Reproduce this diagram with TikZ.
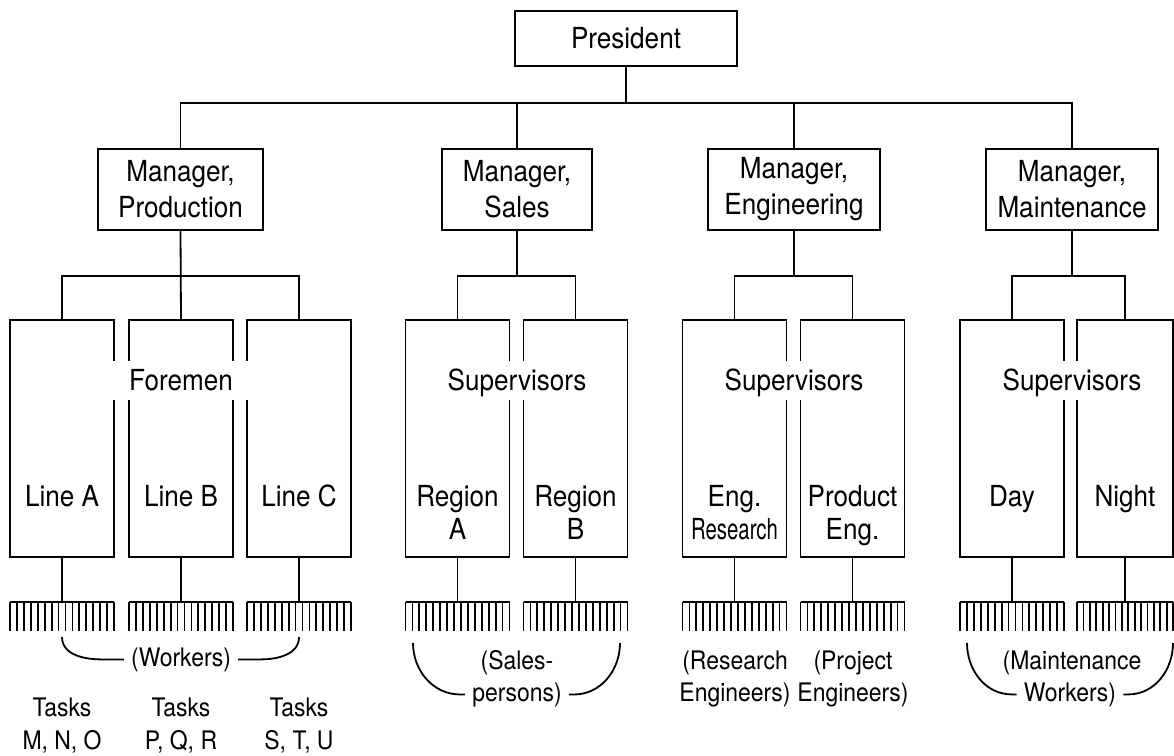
\documentclass[tikz,border=0pt]{standalone}
\usepackage{fontspec}
\usepackage{graphicx}
\setmainfont[FakeStretch=0.9]{TeX Gyre Heros}
\usetikzlibrary{calc}

% type sizes
\newcommand\lbl{\fontsize{29}{34}\selectfont}
\newcommand\sublbl{\fontsize{25.5}{31}\selectfont}
% two centred lines; the box baseline is that of the first line
\newcommand\twolines[3]{\vtop{\baselineskip=#1\lineskiplimit=-\maxdimen
  \halign{\hfil##\hfil\cr#2\cr#3\cr}}}
% a row of workers: a bar with 16 teeth hanging from it
\newcommand\workers[2]{%
  \draw[wire] ($(#1)+({-#2/2},0)$) -- ++(#2,0);
  \foreach \k in {0,...,15}{\draw[wire] ($(#1)+({-#2/2+\k*#2/15},0)$) -- ++(0,29);}}

\tikzset{
  wire/.style={line width=1.8pt},
  post/.style={draw, line width=1.8pt, inner sep=0pt, minimum height=81pt, font=\lbl},
  unit/.style={draw, line width=1.8pt, inner sep=0pt, minimum width=104pt, minimum height=237pt},
  inbox/.style={inner sep=0pt, anchor=base, font=\lbl},
  tier/.style={fill=white, inner xsep=3pt, inner ysep=0pt, minimum height=39pt,
    text height=21pt, text depth=0pt, font=\lbl},
  note/.style={inner sep=0pt, anchor=base, font=\sublbl},
  brnote/.style={inner ysep=0pt, inner xsep=7pt, anchor=base, font=\sublbl},
}

\begin{document}
\begin{tikzpicture}[x=1pt,y=-1pt]
\useasboundingbox (0,0) rectangle (1174,755);
\clip (0,0) rectangle (1174,755);
\fill[white] (0,0) rectangle (1174,755);

% bus levels
\coordinate (top) at (0,103);
\coordinate (gbus) at (0,276);

% president and managers
\node[post, minimum width=222pt, minimum height=55pt] (pres) at (626,38.5) {President};
\node[post, minimum width=165pt] (mprod) at (180.5,189.5) {\twolines{36pt}{Manager,}{Production}};
\node[post, minimum width=150pt] (msales) at (517,189.5) {\twolines{36pt}{Manager,}{Sales}};
\node[post, minimum width=172pt] (meng) at (794,189.5) {\twolines{36pt}{Manager,}{Engineering}};
\node[post, minimum width=172pt] (mmaint) at (1072,189.5) {\twolines{36pt}{Manager,}{Maintenance}};

\draw[wire] (pres.south) -- (pres.south |- top);
\draw[wire] (mprod.north) |- (mmaint.north |- top) -- (mmaint.north);
\draw[wire] (msales.north) -- (msales.north |- top);
\draw[wire] (meng.north) -- (meng.north |- top);

% production lines
\node[unit] (lineA) at (62,438.5) {};
\node[unit] (lineB) at (181,438.5) {};
\node[unit] (lineC) at (299,438.5) {};
\node[inbox] (lineAt) at (62,506) {Line A};
\node[inbox] (lineBt) at (181,506) {Line B};
\node[inbox] (lineCt) at (299,506) {Line C};
\draw[wire] (lineA.north) |- (lineC.north |- gbus) -- (lineC.north);
\draw[wire] (mprod.south) -- (lineB.north);
\node[tier, minimum width=140pt] (foremen) at (181,380) {Foremen};

% sales regions
\node[unit] (regA) at (457.5,438.5) {};
\node[unit] (regB) at (575.5,438.5) {};
\node[inbox] (regAt) at (457.5,506) {\twolines{33pt}{Region}{A}};
\node[inbox] (regBt) at (575.5,506) {\twolines{33pt}{Region}{B}};
\draw[wire] (regA.north) |- (regB.north |- gbus) -- (regB.north);
\draw[wire] (msales.south) -- (msales.south |- gbus);
\node[tier] (supS) at (517,380) {Supervisors};

% engineering
\node[unit] (engR) at (734.5,438.5) {};
\node[unit] (engP) at (852.5,438.5) {};
\node[inbox] (engRt) at (734.5,506) {\twolines{33pt}{Eng.}{\scalebox{0.78}[1]{Research}}};
\node[inbox] (engPt) at (852.5,506) {\twolines{33pt}{Product}{Eng.}};
\draw[wire] (engR.north) |- (engP.north |- gbus) -- (engP.north);
\draw[wire] (meng.south) -- (meng.south |- gbus);
\node[tier] (supE) at (794,380) {Supervisors};

% maintenance shifts
\node[unit] (day) at (1012,438.5) {};
\node[unit, minimum width=96pt] (night) at (1125,438.5) {};
\node[inbox] (dayt) at (1012,506) {Day};
\node[inbox] (nightt) at (1125,506) {Night};
\draw[wire] (day.north) |- (night.north |- gbus) -- (night.north);
\draw[wire] (mmaint.south) -- (mmaint.south |- gbus);
\node[tier] (supM) at (1072,380) {Supervisors};

% worker rows
\coordinate (cA) at (62,602);
\coordinate (cB) at (181,602);
\coordinate (cC) at (299,602);
\coordinate (cRA) at (457.5,602);
\coordinate (cRB) at (575.5,602);
\coordinate (cER) at (734.5,602);
\coordinate (cEP) at (852.5,602);
\coordinate (cD) at (1012,602);
\coordinate (cN) at (1125,602);
\foreach \b/\c in {lineA/cA, lineB/cB, lineC/cC, regA/cRA, regB/cRB, engR/cER, engP/cEP, day/cD, night/cN}
  \draw[wire] (\b.south) -- (\c);
\workers{cA}{104}
\workers{cB}{104}
\workers{cC}{104}
\workers{cRA}{104}
\workers{cRB}{104}
\workers{cER}{104}
\workers{cEP}{104}
\workers{cD}{104}
\workers{cN}{96}

% production workers bracket and tasks
\coordinate (wkL) at (62,637);
\coordinate (wkR) at (299,637);
\node[brnote] (wk) at (181,666) {(Workers)};
\draw[wire] (wk.west) -- ++(-22,0) to[out=180,in=-90] (wkL);
\draw[wire] (wk.east) -- ++(22,0) to[out=0,in=-90] (wkR);
\node[note] (tA) at (62,716) {\twolines{33pt}{Tasks}{M, N, O}};
\node[note] (tB) at (181,716) {\twolines{33pt}{Tasks}{P, Q, R}};
\node[note] (tC) at (299,716) {\twolines{33pt}{Tasks}{S, T, U}};

% salespersons bracket
\coordinate (spL) at (413,643);
\coordinate (spR) at (620,643);
\node[note] (spU) at (517,669) {(Sales-};
\node[brnote] (spD) at (517,701) {persons)};
\draw[wire] (spD.west) -- ++(-5,0) to[out=180,in=-90] (spL);
\draw[wire] (spD.east) -- ++(5,0) to[out=0,in=-90] (spR);

% engineers
\node[note] (reE) at (735,669) {\twolines{32pt}{(Research}{Engineers)}};
\node[note] (prE) at (853,669) {\twolines{32pt}{(Project}{Engineers)}};

% maintenance workers bracket
\coordinate (mwL) at (967,643);
\coordinate (mwR) at (1173,643);
\node[note] (mwU) at (1072,669) {(Maintenance};
\node[brnote] (mwD) at (1070,701) {Workers)};
\draw[wire] (mwD.west) -- ++(-5,0) to[out=180,in=-90] (mwL);
\draw[wire] (mwD.east) -- ++(5,0) to[out=0,in=-90] (mwR);
\end{tikzpicture}
\end{document}
